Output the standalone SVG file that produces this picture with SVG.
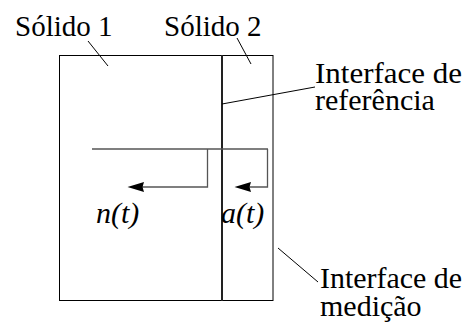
<svg xmlns="http://www.w3.org/2000/svg" width="467" height="322" viewBox="0 0 467 322">
<style>
.t{font-family:"Liberation Serif","Times New Roman",serif;fill:#000}
.lbl{font-size:29px}
.lbl2{font-size:30px}
.it{font-size:30px;font-style:italic}
.thin{stroke:#000;stroke-width:1;fill:none}
.path{stroke:#555;stroke-width:1.3;fill:none}
.head{fill:#000;stroke:none}
</style>
<g id="solido1">
<rect x="59.5" y="55.5" width="162.5" height="245" class="thin"/>
</g>
<g id="solido2">
<rect x="222" y="55.5" width="51" height="245" class="thin"/>
</g>
<g id="interface-ref-line">
<line x1="222" y1="55" x2="222" y2="301" stroke="#222" stroke-width="2"/>
</g>
<g id="labels">
<text class="t lbl" x="15" y="36">Sólido 1</text>
<text class="t lbl" x="164" y="36">Sólido 2</text>
<text class="t lbl2" x="315" y="83" textLength="147" lengthAdjust="spacingAndGlyphs">Interface de</text>
<text class="t lbl2" x="315" y="110">referência</text>
<text class="t lbl2" x="320" y="288" textLength="142" lengthAdjust="spacingAndGlyphs">Interface de</text>
<text class="t lbl2" x="320" y="316">medição</text>
<text class="t it" x="96" y="223">n(t)</text>
<text class="t it" x="221" y="223">a(t)</text>
</g>
<g id="connectors">
<line x1="88" y1="41" x2="108" y2="66" class="thin"/>
<line x1="237" y1="38" x2="251" y2="64" class="thin"/>
<line x1="222" y1="104" x2="315" y2="87" class="thin"/>
<line x1="278" y1="248" x2="318" y2="282" class="thin"/>
<line x1="92" y1="149" x2="268" y2="149" class="path"/>
<polyline points="207.5,149 207.5,187 140,187" class="path"/>
<polygon points="127.5,187 144,182 142.5,187 144,192" class="head"/>
<polyline points="267.5,149 267.5,187 247,187" class="path"/>
<polygon points="234.5,187 251,182 249.5,187 251,192" class="head"/>
</g>
</svg>
